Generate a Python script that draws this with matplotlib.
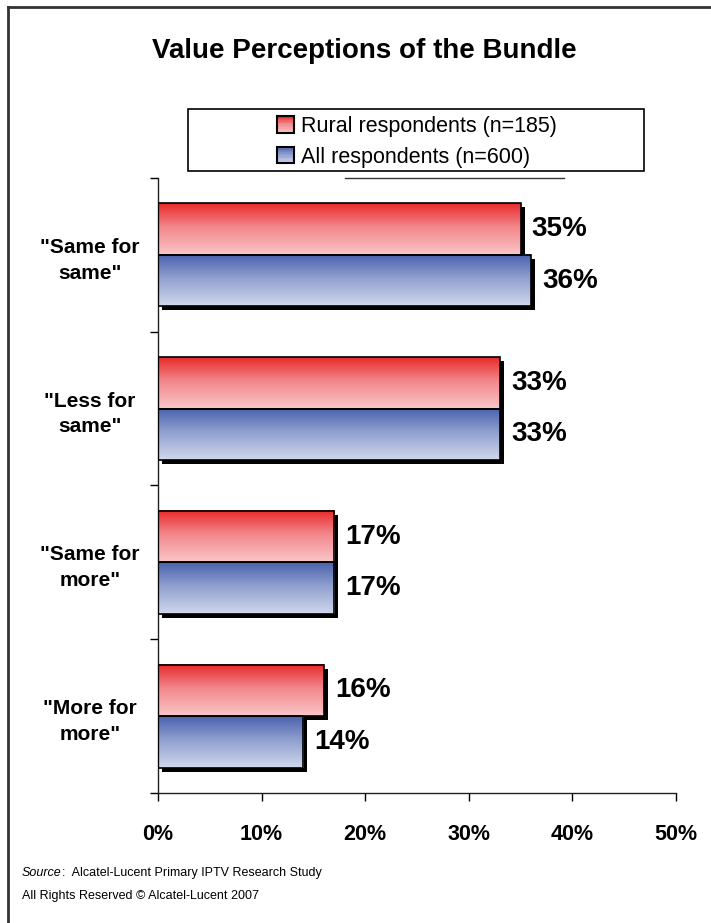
import numpy as np
import matplotlib
matplotlib.use("Agg")
import matplotlib.pyplot as plt
from matplotlib.colors import LinearSegmentedColormap
from matplotlib.transforms import offset_copy
from matplotlib.patches import Rectangle
from matplotlib.lines import Line2D
from matplotlib.text import Annotation
from matplotlib.legend_handler import HandlerBase

plt.rcParams['font.family'] = ['Liberation Sans', 'DejaVu Sans']

# ---------------- data ----------------
title = "Value Perceptions of the Bundle"
categories = ['"Same for\nsame"', '"Less for\nsame"', '"Same for\nmore"', '"More for\nmore"']
rural = [35, 33, 17, 16]
all_resp = [36, 33, 17, 14]
series_names = ["Rural respondents (n=185)", "All respondents (n=600)"]
xticks = [0, 10, 20, 30, 40, 50]
source_label = "Source"
source_text = ":  Alcatel-Lucent Primary IPTV Research Study"
rights_text = "All Rights Reserved \u00a9 Alcatel-Lucent 2007"

# ---------------- styles ----------------
W, H = 711, 923
red_cmap = LinearSegmentedColormap.from_list(
    "redgrad", [(0.0, (0.91, 0.16, 0.16)), (0.45, (0.95, 0.52, 0.54)), (1.0, (0.98, 0.78, 0.79))])
blue_cmap = LinearSegmentedColormap.from_list(
    "bluegrad", [(0.0, (0.29, 0.38, 0.68)), (0.45, (0.56, 0.62, 0.81)), (1.0, (0.82, 0.85, 0.93))])
cmaps = [red_cmap, blue_cmap]

fig = plt.figure(figsize=(W / 100, H / 100), dpi=100)
fig.patch.set_facecolor("white")

ax_left, ax_right, ax_top, ax_bot = 158, 676, 178, 793
ax = fig.add_axes([ax_left / W, 1 - ax_bot / H, (ax_right - ax_left) / W, (ax_bot - ax_top) / H])
ax.set_facecolor("none")

idx = np.arange(len(categories))
bar_h = 0.335
series = [rural, all_resp]
offsets = [-bar_h / 2, bar_h / 2]

shadow_trans = offset_copy(ax.transData, fig=fig, x=4, y=-4, units="dots")
grad = np.linspace(0, 1, 256).reshape(-1, 1)

for s_vals, off, cmap in zip(series, offsets, cmaps):
    ys = idx + off
    # shadow
    ax.barh(ys, s_vals, height=bar_h, color="black", transform=shadow_trans, zorder=1)
    # gradient fill
    for yv, v in zip(ys, s_vals):
        ax.imshow(grad, cmap=cmap, extent=(0, v, yv + bar_h / 2, yv - bar_h / 2),
                  aspect="auto", interpolation="bilinear", zorder=2)
    # outline
    ax.barh(ys, s_vals, height=bar_h, fill=False, edgecolor="black", linewidth=1.2, zorder=3)
    # value labels
    for yv, v in zip(ys, s_vals):
        ax.annotate(f"{v}%", xy=(v, yv), xytext=(11, 0), textcoords="offset pixels",
                    ha="left", va="center", fontsize=20, fontweight="bold", color="black",
                    zorder=4)

ax.set_xlim(0, 50)
ax.set_ylim(len(categories) - 0.5, -0.5)

ax.set_xticks(xticks)
ax.set_xticklabels([f"{t}%" for t in xticks], fontsize=15.5, fontweight="bold")
ax.tick_params(axis="x", direction="out", length=6, width=1, pad=16, colors="black")

ax.set_yticks(np.arange(-0.5, len(categories), 1.0))
ax.set_yticklabels([])
ax.set_yticks(idx, minor=True)
ax.set_yticklabels(categories, minor=True, fontsize=15, fontweight="bold", ha="center",
                   linespacing=1.45)
ax.tick_params(axis="y", which="major", direction="out", length=6, width=1)
ax.tick_params(axis="y", which="minor", length=0, pad=49)

for sp in ("top", "right"):
    ax.spines[sp].set_visible(False)
for sp in ("left", "bottom"):
    ax.spines[sp].set_linewidth(1.0)
    ax.spines[sp].set_color("#222222")

# ---------------- legend ----------------
class GradientHandler(HandlerBase):
    def __init__(self, cmap):
        super().__init__()
        self.cmap = cmap

    def create_artists(self, legend, orig_handle, xdescent, ydescent, width, height,
                       fontsize, trans):
        arts = []
        n = 12
        size = height * 1.05
        x0 = -xdescent
        y0 = -ydescent + (height - size) / 2
        for i in range(n):
            c = self.cmap(1 - (i + 0.5) / n)
            arts.append(Rectangle((x0, y0 + i * size / n), size, size / n + 0.2,
                                  facecolor=c, edgecolor="none", transform=trans))
        arts.append(Rectangle((x0, y0), size, size, facecolor="none", edgecolor="black",
                              linewidth=1.5, transform=trans))
        return arts

h_red = Rectangle((0, 0), 1, 1)
h_blue = Rectangle((0, 0), 1, 1)
leg = fig.legend([h_red, h_blue], series_names, loc="upper left",
                 bbox_to_anchor=(277 / W, 1 - 116 / H), frameon=False,
                 borderpad=0, borderaxespad=0, fontsize=15.5, labelspacing=0.45,
                 handlelength=0.85, handleheight=0.75, handletextpad=0.25,
                 handler_map={h_red: GradientHandler(red_cmap), h_blue: GradientHandler(blue_cmap)})

fig.add_artist(Rectangle((188 / W, 1 - 171 / H), (644 - 188) / W, (171 - 109) / H,
                         transform=fig.transFigure, fill=False, edgecolor="black", linewidth=1.2))
fig.add_artist(Line2D([345 / W, 564 / W], [1 - 178 / H, 1 - 178 / H],
                      transform=fig.transFigure, color="#333333", linewidth=1.0))

# ---------------- frame ----------------
fig.add_artist(Line2D([8 / W, 8 / W], [0, 1 - 7 / H], transform=fig.transFigure,
                      color="#333333", linewidth=2))
fig.add_artist(Line2D([8 / W, 1], [1 - 7 / H, 1 - 7 / H], transform=fig.transFigure,
                      color="#333333", linewidth=2))

# ---------------- title & footer ----------------
fig.text(364 / W, 1 - 51 / H, title, ha="center", va="center", fontsize=20, fontweight="bold")

src = fig.text(22 / W, 1 - 873 / H, source_label, ha="left", va="center", fontsize=9,
               style="italic")
fig.add_artist(Annotation(source_text, xy=(1, 0.5), xycoords=src,
                          ha="left", va="center", fontsize=9))
fig.text(22 / W, 1 - 896 / H, rights_text, ha="left", va="center", fontsize=9)

fig.savefig("out.png", dpi=100, facecolor="white")
